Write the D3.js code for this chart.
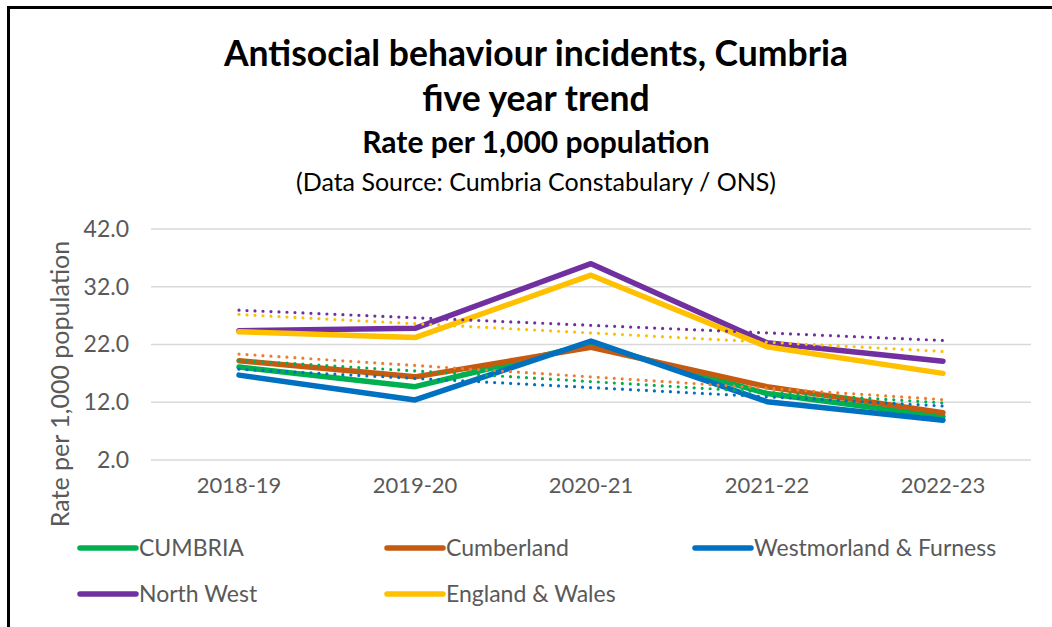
<!DOCTYPE html>
<html><head><meta charset="utf-8">
<script src="https://cdn.jsdelivr.net/npm/d3@7"></script>
<style>body{margin:0;background:#fff;} svg{display:block;font-family:Lato,"Open Sans",sans-serif;}</style>
</head><body>
<svg id="c" width="1052" height="627"></svg>
<script>
const categories = ["2018-19","2019-20","2020-21","2021-22","2022-23"];
const seriesNames = ["CUMBRIA","Cumberland","Westmorland & Furness","North West","England & Wales"];
const cumbria    = [18.1, 14.7, 22.1, 13.5, 9.5];
const cumberland = [19.2, 16.4, 21.5, 14.7, 10.2];
const westFurn   = [16.7, 12.4, 22.6, 12.1, 8.9];
const northWest  = [24.4, 24.8, 36.0, 22.3, 19.1];
const engWales   = [24.2, 23.2, 34.0, 21.6, 17.0];
const yTicks = [2.0, 12.0, 22.0, 32.0, 42.0];
const colors = ["#00B050","#C55A11","#0070C0","#7030A0","#FFC000"];
const trendColors = ["#00B050","#ED7D31","#0070C0","#7030A0","#FFC000"];
const allValues = [cumbria, cumberland, westFurn, northWest, engWales];

const svg = d3.select("#c");
// border
svg.append("path").attr("d","M8.5,627 L8.5,7.5 L1052,7.5").attr("fill","none").attr("stroke","#000").attr("stroke-width",3);

const x = d3.scaleBand().domain(categories).range([151,1031]);
const y = d3.scaleLinear().domain([2,42]).range([460,229]);
const cx = c => x(c) + x.bandwidth()/2;

// titles
const T = svg.append("g").attr("text-anchor","middle").attr("fill","#000");
T.append("text").attr("x",536).attr("y",66).attr("font-size",35.5).attr("font-weight","bold").text("Antisocial behaviour incidents, Cumbria");
T.append("text").attr("x",536).attr("y",111).attr("font-size",35.5).attr("font-weight","bold").text("five year trend");
T.append("text").attr("x",536).attr("y",153).attr("font-size",30).attr("font-weight","bold").text("Rate per 1,000 population");
T.append("text").attr("x",536).attr("y",191).attr("font-size",25).text("(Data Source: Cumbria Constabulary / ONS)");

// gridlines
svg.append("g").selectAll("line").data(yTicks).join("line")
  .attr("x1",151).attr("x2",1031).attr("y1",d=>y(d)).attr("y2",d=>y(d))
  .attr("stroke","#D9D9D9").attr("stroke-width",1.5);

// y axis
const ya = svg.append("g").attr("transform","translate(151,0)")
  .call(d3.axisLeft(y).tickValues(yTicks).tickFormat(d3.format(".1f")).tickSize(0).tickPadding(22));
ya.select(".domain").remove();
ya.selectAll("text").attr("font-size",23).attr("fill","#595959").attr("font-family","Lato");

// x axis
const xa = svg.append("g").attr("transform","translate(0,460)")
  .call(d3.axisBottom(x).tickSize(0).tickPadding(17));
xa.select(".domain").remove();
xa.selectAll("text").attr("font-size",22).attr("fill","#595959").attr("font-family","Lato");

// y title
svg.append("text").attr("transform","translate(69,384) rotate(-90)").attr("text-anchor","middle")
  .attr("font-size",25).attr("fill","#595959").text("Rate per 1,000 population");

const line = d3.line().x((d,i)=>cx(categories[i])).y(d=>y(d));

// series
allValues.forEach((vals,k)=>{
  svg.append("path").datum(vals).attr("d",line).attr("fill","none")
    .attr("stroke",colors[k]).attr("stroke-width",5.5).attr("stroke-linejoin","round").attr("stroke-linecap","round");
});

// linear trendlines
allValues.forEach((vals,k)=>{
  const n = vals.length, xs = d3.range(1,n+1);
  const mx = d3.mean(xs), my = d3.mean(vals);
  const b = d3.sum(xs.map((xx,i)=>(xx-mx)*(vals[i]-my))) / d3.sum(xs.map(xx=>(xx-mx)*(xx-mx)));
  const a = my - b*mx;
  const p0 = a + b*1, p1 = a + b*n;
  svg.append("line").attr("x1",cx(categories[0])).attr("x2",cx(categories[n-1]))
    .attr("y1",y(p0)).attr("y2",y(p1))
    .attr("stroke",trendColors[k]).attr("stroke-width",3.2).attr("stroke-linecap","round")
    .attr("stroke-dasharray","0,8");
});

// legend
const legPos = [[80,548],[387,548],[695,548],[80,594],[387,594]];
seriesNames.forEach((nm,k)=>{
  const [lx,ly] = legPos[k];
  svg.append("line").attr("x1",lx).attr("x2",lx+56).attr("y1",ly).attr("y2",ly)
    .attr("stroke",colors[k]).attr("stroke-width",5.5).attr("stroke-linecap","round");
  svg.append("text").attr("x",lx+59).attr("y",ly+8).attr("font-size",23).attr("fill","#595959").text(nm);
});
</script>
</body></html>
